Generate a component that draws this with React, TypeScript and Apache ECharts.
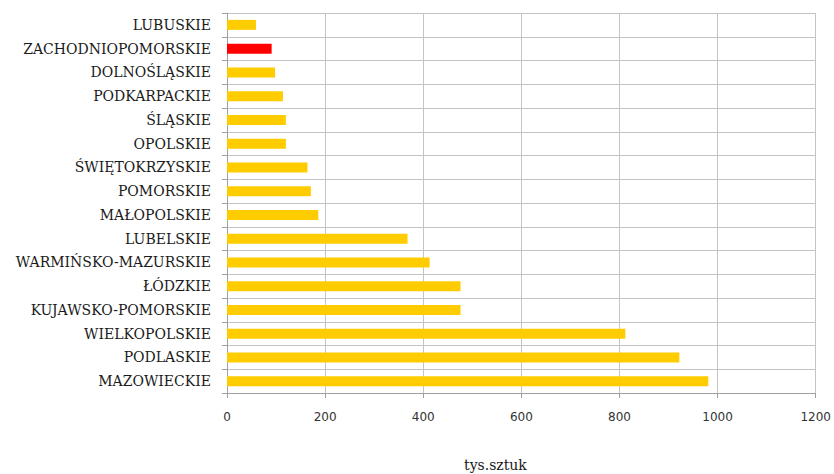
import React, { useEffect, useRef } from "react";
import * as echarts from "echarts";

// Voivodeships, listed top to bottom
const regions = [
  "LUBUSKIE",
  "ZACHODNIOPOMORSKIE",
  "DOLNOŚLĄSKIE",
  "PODKARPACKIE",
  "ŚLĄSKIE",
  "OPOLSKIE",
  "ŚWIĘTOKRZYSKIE",
  "POMORSKIE",
  "MAŁOPOLSKIE",
  "LUBELSKIE",
  "WARMIŃSKO-MAZURSKIE",
  "ŁÓDZKIE",
  "KUJAWSKO-POMORSKIE",
  "WIELKOPOLSKIE",
  "PODLASKIE",
  "MAZOWIECKIE",
];

// Values in thousands of units
const values = [59, 91, 98, 114, 120, 120, 164, 171, 186, 368, 413, 476, 476, 812, 922, 981];

const highlighted = "ZACHODNIOPOMORSKIE";
const axisMin = 0;
const axisMax = 1200;
const axisStep = 200;
const unitLabel = "tys.sztuk";

export default function App() {
  const ref = useRef<HTMLDivElement>(null);

  useEffect(() => {
    document.body.style.margin = "0";
    if (!ref.current) return;
    const chart = echarts.init(ref.current, undefined, { renderer: "svg" });
    const gridColor = "#c4c4c4";
    chart.setOption({
      animation: false,
      backgroundColor: "#ffffff",
      grid: { left: 227, right: 17, top: 13, bottom: 81, containLabel: false },
      xAxis: {
        type: "value",
        min: axisMin,
        max: axisMax,
        interval: axisStep,
        axisLine: { show: true, lineStyle: { color: "#a0a0a0", width: 1 } },
        axisTick: { show: true, length: 5, lineStyle: { color: "#a0a0a0" } },
        axisLabel: {
          color: "#333333",
          fontFamily: "DejaVu Sans",
          fontSize: 12,
          margin: 18,
          formatter: (v: number) => String(v),
        },
        splitLine: { show: true, lineStyle: { color: gridColor, width: 1 } },
      },
      yAxis: {
        type: "category",
        inverse: true,
        data: regions,
        boundaryGap: true,
        axisLine: { show: true, lineStyle: { color: "#a0a0a0", width: 1 } },
        axisTick: { show: true, length: 5, lineStyle: { color: "#a0a0a0" } },
        axisLabel: {
          color: "#1a1a1a",
          fontFamily: "DejaVu Serif",
          fontSize: 14,
          margin: 16,
        },
        splitLine: { show: true, lineStyle: { color: gridColor, width: 1 } },
      },
      series: [
        {
          type: "bar",
          barWidth: 10,
          data: values.map((v, i) => ({
            value: v,
            itemStyle: { color: regions[i] === highlighted ? "#ff0000" : "#ffcc00" },
          })),
        },
      ],
      graphic: [
        {
          type: "text",
          left: 464,
          top: 458,
          style: {
            text: unitLabel,
            fill: "#1a1a1a",
            font: "14px 'DejaVu Serif'",
          },
        },
      ],
    });
    return () => chart.dispose();
  }, []);

  return <div ref={ref} style={{ width: 834, height: 474 }} />;
}
